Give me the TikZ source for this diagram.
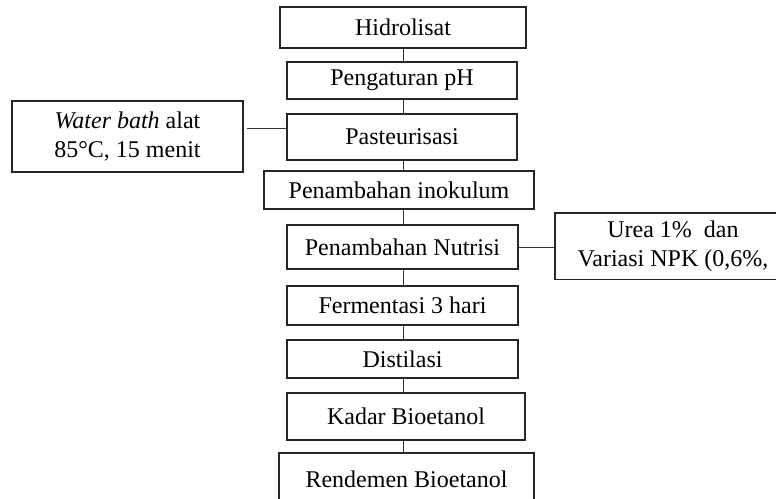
\documentclass[tikz,border=0pt]{standalone}
\usepackage{fontspec}
\setmainfont{Liberation Serif}
\usepackage{tikz}
\usetikzlibrary{positioning}

\begin{document}
\begin{tikzpicture}[
  x=1pt, y=-1pt,
  font=\fontsize{24}{29}\selectfont,
  stepbox/.style={rectangle, draw=black!85, line width=1.8pt, inner sep=0pt},
  sidebox/.style={stepbox, align=center},
  openbox/.style={draw=black!85, line width=1.8pt},
  link/.style={draw=black!80, line width=1pt},
]
\useasboundingbox (0,0) rectangle (776,498);
\coordinate (spine) at (403,0);
\node[stepbox, minimum width=246pt, minimum height=41pt] (hidro)  at (403,27.5)  {Hidrolisat};
\node[stepbox, minimum width=230pt, minimum height=37pt] (ph)     at (402,80.5)  {Pengaturan pH};
\node[stepbox, minimum width=230pt, minimum height=46pt] (past)   at (402,137)   {Pasteurisasi};
\node[stepbox, minimum width=270pt, minimum height=38pt] (inok)   at (399,190)   {Penambahan inokulum};
\node[stepbox, minimum width=231pt, minimum height=44pt] (nutri)  at (402.5,247) {Penambahan Nutrisi};
\node[stepbox, minimum width=231pt, minimum height=39pt] (ferm)   at (402.5,305.5) {Fermentasi 3 hari};
\node[stepbox, minimum width=231pt, minimum height=38pt] (dist)   at (402.5,359) {Distilasi};
\node[stepbox, minimum width=238pt, minimum height=47pt] (kadar)  at (406,416.5) {Kadar Bioetanol};
\node[stepbox, draw=none, minimum width=253pt, minimum height=50pt] (rend) at (406.5,479) {Rendemen Bioetanol};
\node[sidebox, minimum width=231pt, minimum height=71pt] (bath)   at (127.5,136.5)
  {\textit{Water bath} alat\\85°C, 15 menit};
\node[sidebox, draw=none, minimum width=234pt, minimum height=65pt] (urea) at (673,246)
  {Urea 1\%~ dan\\Variasi NPK (0,6\%,};
% boxes cut off by the page edge
\draw[openbox] (rend.south west) -- (rend.north west) -- (rend.north east) -- (rend.south east);
\draw[openbox] (urea.north east) -- (urea.north west) -- (urea.south west) -- (urea.south east);
\coordinate (bathend) at (247,128);
% main line
\foreach \a/\b in {hidro/ph, ph/past, past/inok, inok/nutri, nutri/ferm,
                   ferm/dist, dist/kadar, kadar/rend}
  \draw[link] (\a.south -| spine) -- (\b.north -| spine);
% side branches
\draw[link] (bathend) -- (past.west |- bathend);
\draw[link] (nutri.east) -- (nutri.east -| urea.west);
\end{tikzpicture}
\end{document}
